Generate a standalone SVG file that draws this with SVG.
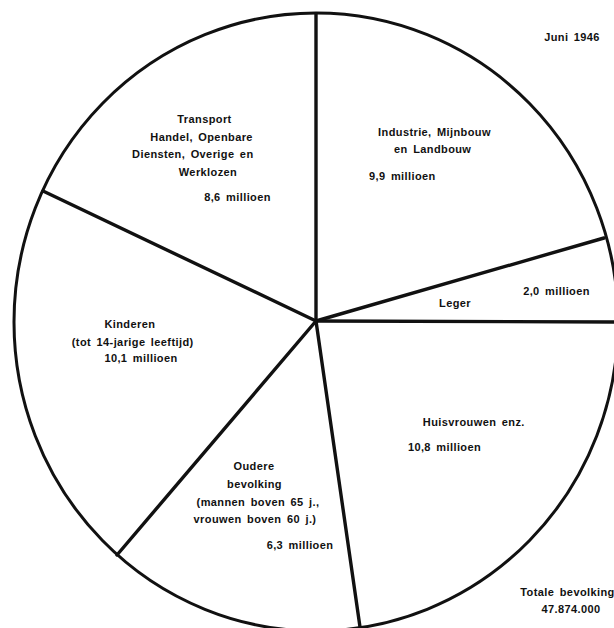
<svg xmlns="http://www.w3.org/2000/svg" width="614" height="628" viewBox="0 0 614 628">
<style>
  .ln { fill: none; stroke: #111; stroke-linecap: round; }
  .rim { stroke-width: 3; }
  .spoke { stroke-width: 3.4; }
  text { font-family: "Liberation Sans", Arial, sans-serif; font-weight: bold; font-size: 11px; fill: #111; text-anchor: middle; letter-spacing: 0.4px; word-spacing: 2px; }
</style>
<rect x="0" y="0" width="614" height="628" fill="#ffffff"/>
<g id="pie-outline">
  <ellipse class="ln rim" cx="316" cy="322" rx="302" ry="309"/>
</g>
<g id="spokes">
  <line class="ln spoke" x1="316" y1="321" x2="316" y2="14"/>
  <line class="ln spoke" x1="316" y1="321" x2="43" y2="191"/>
  <line class="ln spoke" x1="316" y1="321" x2="604" y2="238"/>
  <line class="ln spoke" x1="316" y1="321" x2="620" y2="322"/>
  <line class="ln spoke" x1="316" y1="321" x2="360" y2="627"/>
  <line class="ln spoke" x1="316" y1="321" x2="117" y2="555"/>
</g>
<g id="slice-transport">
  <text x="204.5" y="123">Transport</text>
  <text x="201.6" y="141">Handel, Openbare</text>
  <text x="192.8" y="158">Diensten, Overige en</text>
  <text x="208" y="176">Werklozen</text>
  <text x="237.5" y="201">8,6 millioen</text>
</g>
<g id="slice-industrie">
  <text x="434.5" y="136">Industrie, Mijnbouw</text>
  <text x="432.7" y="153">en Landbouw</text>
  <text x="402.3" y="180">9,9 millioen</text>
</g>
<g id="slice-leger">
  <text x="556.5" y="295">2,0 millioen</text>
  <text x="455" y="307">Leger</text>
</g>
<g id="slice-huisvrouwen">
  <text x="473.8" y="426">Huisvrouwen enz.</text>
  <text x="444.5" y="451">10,8 millioen</text>
</g>
<g id="slice-oudere">
  <text x="254" y="470">Oudere</text>
  <text x="254.5" y="488">bevolking</text>
  <text x="258" y="506">(mannen boven 65 j.,</text>
  <text x="255" y="523">vrouwen boven 60 j.)</text>
  <text x="300" y="549">6,3 millioen</text>
</g>
<g id="slice-kinderen">
  <text x="129.9" y="328">Kinderen</text>
  <text x="132.7" y="346">(tot 14-jarige leeftijd)</text>
  <text x="141" y="362">10,1 millioen</text>
</g>
<g id="title">
  <text x="572" y="41">Juni 1946</text>
</g>
<g id="total">
  <text x="567.5" y="596">Totale bevolking</text>
  <text x="571" y="613">47.874.000</text>
</g>
</svg>
